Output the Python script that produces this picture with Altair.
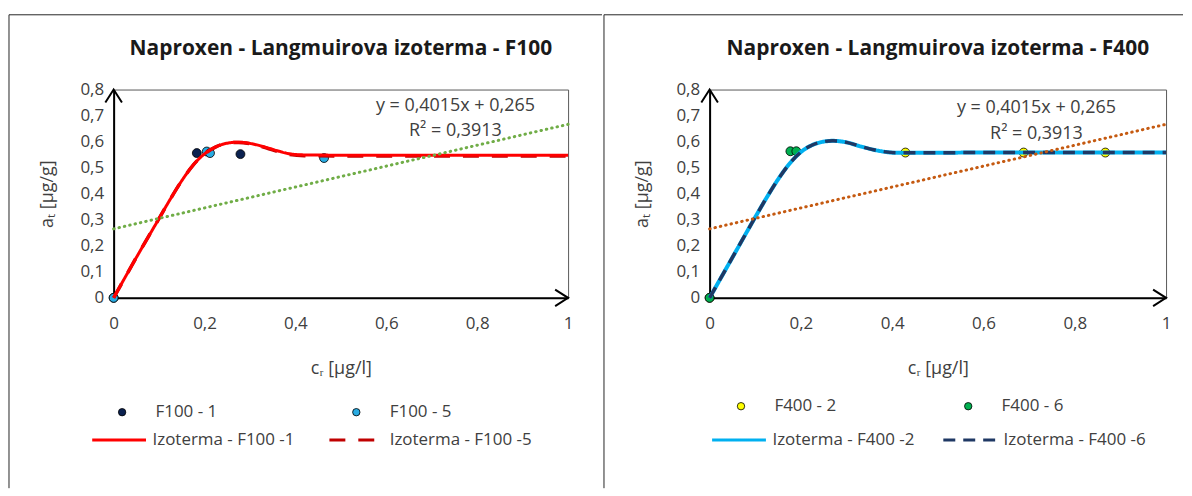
import altair as alt
import pandas as pd

FONT = "Open Sans"
TXT = "#404040"

# ---------------- F100 panel data ----------------
f100_title = "Naproxen - Langmuirova izoterma - F100"
f100_pt_names = ["F100 - 1", "F100 - 5"]
f100_pt_colors = ["#0b2150", "#29abe2"]
f100_1_x = [0.0, 0.183, 0.279]
f100_1_y = [0.0, 0.556, 0.552]
f100_5_x = [0.0, 0.205, 0.212, 0.463]
f100_5_y = [0.0, 0.562, 0.556, 0.537]

f100_line_names = ["Izoterma - F100 -1", "Izoterma - F100 -5"]
f100_line_colors = ["#ff0000", "#c00000"]
iso_f100_1_x = [0.0, 0.05, 0.1, 0.125, 0.15, 0.175, 0.2, 0.225, 0.25, 0.275, 0.3, 0.337, 0.36, 0.388, 0.42, 0.5, 0.7, 1.0]
iso_f100_1_y = [0.0, 0.155, 0.305, 0.38, 0.45, 0.51, 0.553, 0.58, 0.594, 0.598, 0.593, 0.577, 0.565, 0.553, 0.549, 0.548, 0.548, 0.548]
iso_f100_5_x = [0.0, 0.05, 0.1, 0.125, 0.15, 0.175, 0.2, 0.225, 0.25, 0.275, 0.3, 0.337, 0.36, 0.388, 0.42, 0.5, 0.7, 1.0]
iso_f100_5_y = [0.0, 0.155, 0.305, 0.38, 0.45, 0.51, 0.553, 0.58, 0.594, 0.597, 0.592, 0.575, 0.562, 0.550, 0.546, 0.545, 0.545, 0.545]
f100_trend_x = [0.0, 1.0]
f100_trend_y = [0.265, 0.6665]
f100_eq = ["y = 0,4015x + 0,265", "R² = 0,3913"]

# ---------------- F400 panel data ----------------
f400_title = "Naproxen - Langmuirova izoterma - F400"
f400_pt_names = ["F400 - 2", "F400 - 6"]
f400_pt_colors = ["#ffff00", "#00b050"]
f400_2_x = [0.0, 0.429, 0.688, 0.867]
f400_2_y = [0.0, 0.558, 0.558, 0.558]
f400_6_x = [0.0, 0.177, 0.19]
f400_6_y = [0.0, 0.563, 0.563]

f400_line_names = ["Izoterma - F400 -2", "Izoterma - F400 -6"]
f400_line_colors = ["#00b0f0", "#1f3864"]
iso_f400_2_x = [0.0, 0.05, 0.1, 0.125, 0.15, 0.175, 0.2, 0.225, 0.25, 0.27, 0.3, 0.33, 0.37, 0.41, 0.45, 0.6, 0.8, 1.0]
iso_f400_2_y = [0.0, 0.155, 0.31, 0.385, 0.455, 0.515, 0.56, 0.587, 0.6, 0.603, 0.597, 0.582, 0.565, 0.557, 0.557, 0.558, 0.558, 0.558]
iso_f400_6_x = [0.0, 0.05, 0.1, 0.125, 0.15, 0.175, 0.2, 0.225, 0.25, 0.27, 0.3, 0.33, 0.37, 0.41, 0.45, 0.6, 0.8, 1.0]
iso_f400_6_y = [0.0, 0.155, 0.31, 0.385, 0.455, 0.515, 0.56, 0.587, 0.6, 0.603, 0.597, 0.582, 0.565, 0.557, 0.557, 0.558, 0.558, 0.558]
f400_trend_x = [0.0, 1.0]
f400_trend_y = [0.265, 0.6665]
f400_eq = ["y = 0,4015x + 0,265", "R² = 0,3913"]

x_ticks = [0, 0.2, 0.4, 0.6, 0.8, 1]
y_ticks = [0, 0.1, 0.2, 0.3, 0.4, 0.5, 0.6, 0.7, 0.8]

LABEL_EXPR = "replace(format(datum.value, '~g'), '.', ',')"
UP_ARROW = "M -0.64 1 L 0 0 L 0.64 1"
RIGHT_ARROW = "M -1 -0.64 L 0 0 L -1 0.64"
H = 209


def points_df(names, xs_list, ys_list):
    rows = []
    for n, xs, ys in zip(names, xs_list, ys_list):
        for x, y in zip(xs, ys):
            rows.append({"x": x, "y": y, "s": n})
    return pd.DataFrame(rows)


def line_df(name, xs, ys):
    return pd.DataFrame({"x": xs, "y": ys, "s": name, "i": list(range(len(xs)))})


def panel(W, title, pts, pt_names, pt_colors, curves, line_names, line_colors,
          dashes, widths, draw_order, trend, trend_color, eq, eq_pos,
          pleg, lleg, borders):
    xs = alt.Scale(domain=[0, 1], nice=False, zero=False)
    ys = alt.Scale(domain=[0, 0.8], nice=False)
    xaxis = alt.Axis(values=x_ticks, labelExpr=LABEL_EXPR, title="cᵣ [µg/l]",
                     grid=False, ticks=False, domainColor="black", domainWidth=2,
                     labelFont=FONT, labelFontSize=17, labelColor=TXT, labelPadding=18,
                     labelFlush=False, labelOverlap=False,
                     titleFont=FONT, titleFontSize=18, titleFontWeight="normal",
                     titleColor=TXT, titlePadding=28)
    yaxis = alt.Axis(values=y_ticks, labelExpr=LABEL_EXPR, title="aₜ [µg/g]",
                     grid=False, ticks=False, domainColor="black", domainWidth=2,
                     labelFont=FONT, labelFontSize=17, labelColor=TXT, labelPadding=10,
                     labelFlush=False, labelOverlap=False,
                     titleFont=FONT, titleFontSize=18, titleFontWeight="normal",
                     titleColor=TXT, titlePadding=24)
    X = alt.X("x:Q", scale=xs, axis=xaxis)
    Y = alt.Y("y:Q", scale=ys, axis=yaxis)

    pt_legend = alt.Legend(title=None, orient="none", legendX=pleg[0], legendY=pleg[1],
                           direction="horizontal", columns=2, columnPadding=pleg[2],
                           symbolType="circle", symbolSize=55, symbolStrokeColor="black",
                           symbolStrokeWidth=0.8, labelOffset=pleg[3], labelFont=FONT,
                           labelFontSize=17, labelColor=TXT, padding=0)
    ln_legend = alt.Legend(title=None, orient="none", legendX=lleg[0], legendY=lleg[1],
                           direction="horizontal", columns=2, columnPadding=lleg[2],
                           symbolType="stroke", symbolSize=2916, symbolStrokeWidth=3,
                           labelOffset=lleg[3], labelFont=FONT, labelFontSize=17,
                           labelColor=TXT, padding=0)

    dummy = pd.DataFrame({"a": [0]})
    layers = []
    # cell borders (decoration)
    bl, br, top, bottom = borders
    layers.append(alt.Chart(dummy).mark_rule(color="#262626", strokeWidth=1).encode(
        x=alt.value(bl), x2=alt.value(br), y=alt.value(top)))
    layers.append(alt.Chart(dummy).mark_rule(color="#262626", strokeWidth=1).encode(
        x=alt.value(bl), y=alt.value(top), y2=alt.value(bottom)))

    layers.append(alt.Chart(pts).mark_circle(size=80, opacity=1, stroke="black",
                                            strokeWidth=0.8).encode(
        x=X, y=Y,
        fill=alt.Fill("s:N", scale=alt.Scale(domain=pt_names, range=pt_colors), legend=pt_legend)))

    stroke_scale = alt.Scale(domain=line_names, range=line_colors)
    dash_scale = alt.Scale(domain=line_names, range=dashes)
    for k in draw_order:
        layers.append(alt.Chart(curves[k]).mark_line(strokeWidth=widths[k], interpolate="monotone").encode(
            x=X, y=Y, order="i:Q",
            stroke=alt.Stroke("s:N", scale=stroke_scale, legend=ln_legend),
            strokeDash=alt.StrokeDash("s:N", scale=dash_scale, legend=ln_legend)))

    layers.append(alt.Chart(trend).mark_line(color=trend_color, strokeWidth=3,
                                             strokeDash=[0.5, 5], strokeCap="round").encode(x=X, y=Y))

    eq_df = pd.DataFrame({"x": [eq_pos[0], eq_pos[0]], "y": [eq_pos[1], eq_pos[2]], "t": eq})
    layers.append(alt.Chart(eq_df).mark_text(font=FONT, fontSize=18, color=TXT,
                                             align="center", baseline="middle").encode(
        x=X, y=Y, text="t:N"))

    up_df = pd.DataFrame({"x": [0.0], "y": [0.8]})
    right_df = pd.DataFrame({"x": [1.0], "y": [0.0]})
    layers.append(alt.Chart(up_df).mark_point(shape=UP_ARROW, size=676, filled=False,
                                              stroke="black", strokeWidth=2, opacity=1).encode(
        x=X, y=Y))
    layers.append(alt.Chart(right_df).mark_point(shape=RIGHT_ARROW, size=676, filled=False,
                                                 stroke="black", strokeWidth=2, opacity=1).encode(
        x=X, y=Y))

    layers.append(alt.Chart(dummy).mark_text(font=FONT, fontSize=21, fontWeight="bold",
                                             color="#1a1a1a", align="center",
                                             baseline="middle").encode(
        x=alt.value(W / 2), y=alt.value(-41), text=alt.value(title)))

    return alt.layer(*layers).properties(width=W, height=H)


left_pts = points_df(f100_pt_names, [f100_1_x, f100_5_x], [f100_1_y, f100_5_y])
left_curves = [line_df(f100_line_names[0], iso_f100_1_x, iso_f100_1_y),
               line_df(f100_line_names[1], iso_f100_5_x, iso_f100_5_y)]
left_trend = pd.DataFrame({"x": f100_trend_x, "y": f100_trend_y})

right_pts = points_df(f400_pt_names, [f400_2_x, f400_6_x], [f400_2_y, f400_6_y])
right_curves = [line_df(f400_line_names[0], iso_f400_2_x, iso_f400_2_y),
                line_df(f400_line_names[1], iso_f400_6_x, iso_f400_6_y)]
right_trend = pd.DataFrame({"x": f400_trend_x, "y": f400_trend_y})

left = panel(456, f100_title, left_pts, f100_pt_names, f100_pt_colors, left_curves,
             f100_line_names, f100_line_colors, [[1, 0], [16, 13]], [3, 3.5], [1, 0],
             left_trend, "#70ad47", f100_eq, (0.752, 0.737, 0.642),
             (0, 315, 131, 25), (-23, 323, 28, 5), (-105, 490, -75, 400))
right = panel(458, f400_title, right_pts, f400_pt_names, f400_pt_colors, right_curves,
              f400_line_names, f400_line_colors, [[1, 0], [12, 8]], [4, 3.5], [0, 1],
              right_trend, "#c55a11", f400_eq, (0.716, 0.73, 0.628),
              (23, 309, 124, 25), (1, 323, 22, 5), (-106, 475, -75, 400))

chart = alt.hconcat(left, right, spacing=0).resolve_scale(
    fill="independent", stroke="independent", strokeDash="independent"
).properties(
    padding={"left": 0, "top": 5, "right": 0, "bottom": 0}
).configure_view(stroke="#595959", strokeWidth=1)

chart.save("out.html", embed_options={"renderer": "svg", "actions": False})
